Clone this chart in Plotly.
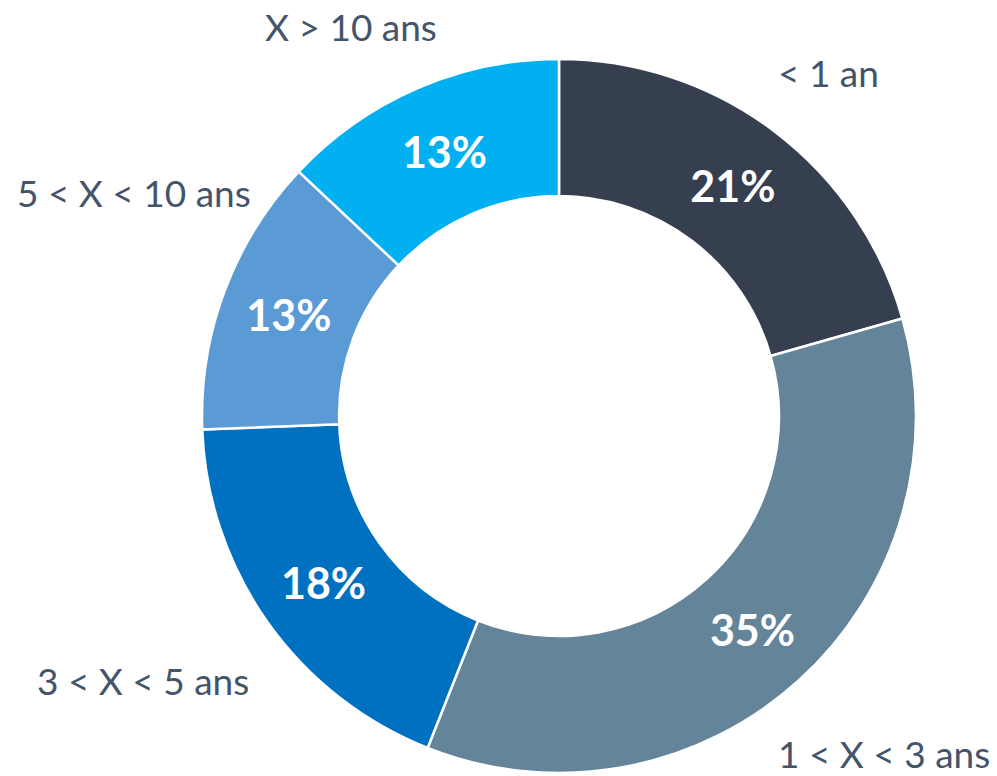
import plotly.graph_objects as go

categories = ["< 1 an", "1 < X < 3 ans", "3 < X < 5 ans", "5 < X < 10 ans", "X > 10 ans"]
values = [20.6, 35.4, 18.4, 12.6, 13.0]
colors = ["#353f50", "#64849a", "#0070c0", "#5b9bd5", "#00b0f0"]

# label anchor positions (pixel centres in a 997x776 canvas)
label_pos = [(828, 72), (884, 753), (143, 680), (134, 192), (351, 27)]

W, H = 997, 776
cx, cy, R = 559, 416, 357

fig = go.Figure(go.Pie(
    labels=categories,
    values=values,
    sort=False,
    direction="clockwise",
    rotation=0,
    hole=0.616,
    marker=dict(colors=colors, line=dict(color="white", width=2.5)),
    texttemplate="%{percent:.0%}",
    textposition="inside",
    insidetextorientation="horizontal",
    textfont=dict(family="Lato", size=43, color="white", weight="bold"),
    showlegend=False,
    hoverinfo="label+percent",
    domain=dict(x=[(cx - R) / W, (cx + R) / W], y=[(H - cy - R) / H, (H - cy + R) / H]),
))

for lab, (px, py) in zip(categories, label_pos):
    fig.add_annotation(
        text=lab, x=px / W, y=1 - py / H, xref="paper", yref="paper",
        xanchor="center", yanchor="middle", showarrow=False,
        font=dict(family="Lato", size=37, color="#44546a"),
    )

fig.update_layout(
    width=W, height=H,
    margin=dict(l=0, r=0, t=0, b=0),
    paper_bgcolor="white", plot_bgcolor="white",
)

fig.write_html("out.html")
